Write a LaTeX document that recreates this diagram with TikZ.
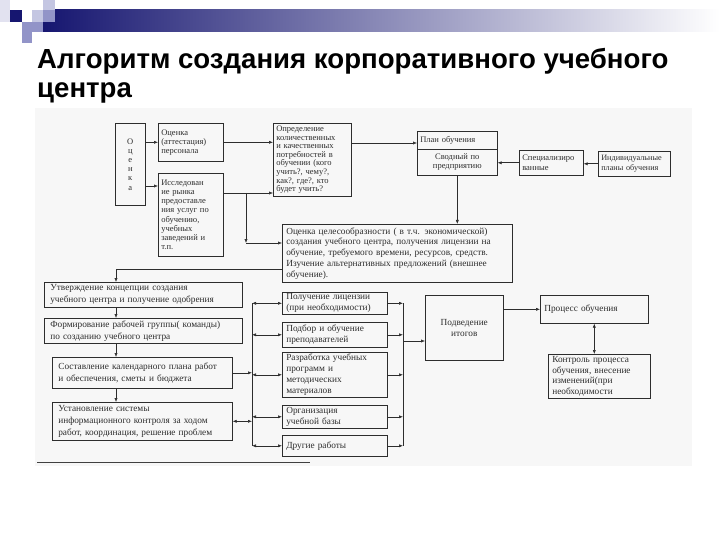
\documentclass[tikz,border=0pt]{standalone}
\usepackage{fontspec}
\newfontfamily\titlefont{Liberation Sans}
\newfontfamily\scanfont{Liberation Serif}
\definecolor{BarNavy}{RGB}{22,22,112}
\definecolor{PixPale}{RGB}{226,226,240}
\definecolor{PixLight}{RGB}{196,198,226}
\definecolor{PixMid}{RGB}{146,148,200}
\definecolor{ScanInk}{RGB}{45,45,45}
\definecolor{ScanPaper}{RGB}{247,247,247}
\usepackage{tikz}
\usetikzlibrary{arrows.meta}

\begin{document}
\begin{tikzpicture}[x=1pt, y=-1pt,
    box/.style={draw=ScanInk, line width=0.6pt, anchor=north west, inner xsep=3pt, inner ysep=1pt,
                align=left, text=ScanInk, font=\scanfont\fontsize{8.5}{9.2}\selectfont},
    wide/.style={font=\scanfont\fontsize{9.3}{12}\selectfont, inner xsep=6pt},
    mid/.style={font=\scanfont\fontsize{9.3}{10.8}\selectfont, inner xsep=4pt},
    arr/.style={-{Latex[length=4pt,width=3.2pt]}, line width=0.6pt, ScanInk},
    dbl/.style={{Latex[length=4pt,width=3.2pt]}-{Latex[length=4pt,width=3.2pt]}, line width=0.6pt, ScanInk},
    ln/.style={line width=0.6pt, ScanInk},
    headline/.style={anchor=base west, inner sep=0pt, font=\titlefont\bfseries\fontsize{27.6}{30}\selectfont}]
  \useasboundingbox (0,0) rectangle (720,540);
  \shade[left color=BarNavy, right color=white] (43,10) rectangle (720,32);
  \fill[PixPale] (0,0) rectangle (10,22);
  \fill[BarNavy] (10,10) rectangle (22,22);
  \fill[PixLight] (32,10) rectangle (43,22);
  \fill[PixLight] (43,0) rectangle (55,10);
  \fill[PixMid] (43,10) rectangle (55,22);
  \fill[PixMid] (22,22) rectangle (43,32);
  \fill[PixMid] (22,32) rectangle (32,43);
  \fill[ScanPaper] (35,108) rectangle (692,466);
  \draw[black!75, line width=1pt] (37,462) -- (310,462);

  \node[headline] (title1) at (37,69) {Алгоритм создания корпоративного учебного};
  \node[headline] (title2) at (37,98) {центра};

  \node[box, align=center, minimum width=30pt, minimum height=82pt, text width=24pt] (ocenka) at (115,123)
        {О\\ц\\е\\н\\к\\а};
  \node[box, minimum width=65pt, minimum height=38pt, text width=59pt] (pers) at (158,123)
        {Оценка\\(аттестация)\\персонала};
  \node[box, minimum width=65pt, minimum height=83pt, text width=59pt] (rynok) at (158,173)
        {Исследован\\ие рынка\\предоставле\\ния услуг по\\обучению,\\учебных\\заведений и\\т.п.};
  \node[box, font=\scanfont\fontsize{8.5}{8.6}\selectfont, minimum width=78pt, minimum height=73pt, text width=72pt]
        (opred) at (273,123)
        {Определение\\количественных\\и качественных\\потребностей в\\обучении (кого\\учить?, чему?,\\как?, где?, кто\\будет учить?};
  \node[box, minimum width=80pt, minimum height=18pt, text width=74pt] (planT) at (417,131)
        {План обучения};
  \node[box, align=center, minimum width=80pt, minimum height=26pt, text width=74pt] (planB) at (417,149)
        {Сводный по\\предприятию};
  \node[box, minimum width=64pt, minimum height=25pt, text width=58pt] (spec) at (519,150)
        {Специализиро\\ванные};
  \node[box, font=\scanfont\fontsize{8.2}{9.2}\selectfont, minimum width=72pt, minimum height=25pt, text width=66pt]
        (indiv) at (598,151)
        {Индивидуальные\\планы обучения};
  \node[box, mid, minimum width=230pt, minimum height=58pt, text width=222pt] (celes) at (282,224)
        {Оценка целесообразности ( в т.ч. экономической)\\создания учебного центра, получения лицензии на\\обучение, требуемого времени, ресурсов, средств.\\Изучение альтернативных предложений (внешнее\\обучение).};

  \node[box, wide, minimum width=198pt, minimum height=25pt, text width=186pt] (utv) at (44,282)
        {Утверждение концепции создания\\учебного центра и получение одобрения};
  \node[box, wide, minimum width=198pt, minimum height=25pt, text width=186pt] (form) at (44,318)
        {Формирование рабочей группы( команды)\\по созданию учебного центра};
  \node[box, wide, minimum width=180pt, minimum height=31pt, text width=168pt] (sost) at (52,357)
        {Составление календарного плана работ\\и обеспечения, сметы и бюджета};
  \node[box, wide, minimum width=180pt, minimum height=38pt, text width=168pt] (ustan) at (52,402)
        {Установление системы\\информационного контроля за ходом\\работ, координация, решение проблем};

  \node[box, mid, minimum width=105pt, minimum height=22pt, text width=97pt] (lic) at (282,292)
        {Получение лицензии\\(при необходимости)};
  \node[box, mid, minimum width=105pt, minimum height=25pt, text width=97pt] (podb) at (282,322)
        {Подбор и обучение\\преподавателей};
  \node[box, mid, minimum width=105pt, minimum height=45pt, text width=97pt] (razr) at (282,352)
        {Разработка учебных\\программ и\\методических\\материалов};
  \node[box, mid, minimum width=105pt, minimum height=23pt, text width=97pt] (org) at (282,405)
        {Организация\\учебной базы};
  \node[box, mid, minimum width=105pt, minimum height=21pt, text width=97pt] (drug) at (282,435)
        {Другие работы};

  \node[box, mid, align=center, minimum width=78pt, minimum height=65pt, text width=70pt] (itog) at (425,295)
        {Подведение\\итогов};
  \node[box, mid, minimum width=108pt, minimum height=28pt, text width=100pt] (proc) at (540,295)
        {Процесс обучения};
  \node[box, mid, minimum width=102pt, minimum height=44pt, text width=94pt] (kontr) at (548,354)
        {Контроль процесса\\обучения, внесение\\изменений(при\\необходимости};

  \draw[arr] (ocenka.east |- pers.west) -- (pers.west);
  \draw[arr] (ocenka.east |- 0,186) -- (rynok.west |- 0,186);
  \draw[arr] (pers.east) -- (opred.west |- pers.east);
  \draw[arr] (rynok.east |- 0,193) -- (opred.west |- 0,193);
  \coordinate (split) at (246,193);
  \coordinate (turn) at (246,243);
  \draw[arr] (split) -- (turn);
  \draw[arr] (turn) -- (celes.west |- turn);
  \draw[arr] (opred.east |- 0,143) -- (planT.west |- 0,143);
  \draw[arr] (planB.south) -- (celes.north -| planB.south);
  \draw[arr] (spec.west) -- (planB.east |- spec.west);
  \draw[arr] (indiv.west) -- (spec.east |- indiv.west);

  \coordinate (down) at (116,269);
  \draw[arr] (celes.west |- down) -| (utv.north -| down);
  \foreach \a/\b in {utv/form, form/sost, sost/ustan}
    \draw[arr] (\a.south -| down) -- (\b.north -| down);

  \coordinate (busL) at (252,302);
  \coordinate (busR) at (403,303);
  \draw[ln] (busL |- lic.west) -- (busL |- drug.west);
  \draw[ln] (busR |- lic.east) -- (busR |- drug.east);
  \draw[arr] (sost.east) -- (busL |- sost.east);
  \draw[dbl] (ustan.east) -- (busL |- ustan.east);
  \foreach \n in {lic, podb, razr, org, drug} {
    \draw[dbl] (busL |- \n.west) -- (\n.west);
    \draw[arr] (\n.east) -- (busR |- \n.east);
  }
  \draw[arr] (busR |- 0,341) -- (itog.west |- 0,341);
  \draw[arr] (itog.east |- proc.west) -- (proc.west);
  \draw[dbl] (proc.south) -- (kontr.north -| proc.south);
\end{tikzpicture}
\end{document}
